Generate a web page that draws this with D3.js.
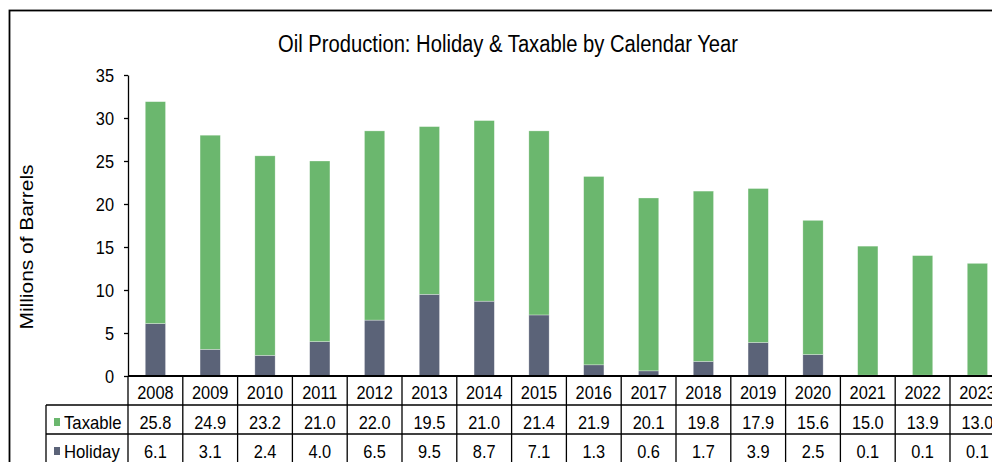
<!DOCTYPE html>
<html>
<head>
<meta charset="utf-8">
<script src="https://cdn.jsdelivr.net/npm/d3@7"></script>
<style>
  body { margin: 0; background: #fff; }
  text { font-family: "Liberation Sans", Arial, sans-serif; fill: #000; }
</style>
</head>
<body>
<svg id="chart" width="992" height="462"></svg>
<script>
var years = ["2008","2009","2010","2011","2012","2013","2014","2015","2016","2017","2018","2019","2020","2021","2022","2023"];
var holiday = [6.1, 3.1, 2.4, 4.0, 6.5, 9.5, 8.7, 7.1, 1.3, 0.6, 1.7, 3.9, 2.5, 0.1, 0.1, 0.1];
var taxable = [25.8, 24.9, 23.2, 21.0, 22.0, 19.5, 21.0, 21.4, 21.9, 20.1, 19.8, 17.9, 15.6, 15.0, 13.9, 13.0];
var yTicks = [0, 5, 10, 15, 20, 25, 30, 35];

var svg = d3.select("#chart"),
    left = 128,
    colW = 54.8,
    plotTop = 75,
    plotBottom = 376,
    rowH = 29;

var green = "#6bb76e",
    slate = "#5b6378";

// excel draws its text tall and narrow
function condense(sel, k) {
    sel.each(function() {
        var w = this.getComputedTextLength();
        d3.select(this).attr("textLength", w * k).attr("lengthAdjust", "spacingAndGlyphs");
    });
}

// outer frame (cropped on right and bottom)
svg.append("rect")
   .attr("x", 9.5).attr("y", 10.5)
   .attr("width", 1100).attr("height", 600)
   .attr("fill", "none").attr("stroke", "#000").attr("stroke-width", 1.8);

svg.append("text")
   .attr("x", 508).attr("y", 52)
   .attr("text-anchor", "middle")
   .style("font-size", "23px")
   .attr("textLength", 460)
   .attr("lengthAdjust", "spacingAndGlyphs")
   .text("Oil Production: Holiday & Taxable by Calendar Year");

var x = d3.scaleBand().domain(years).range([left, left + colW * years.length]);
var xb = d3.scaleBand().domain(years).range([left, left + colW * years.length])
           .paddingInner(0.63).paddingOuter(0.315);
var y = d3.scaleLinear().domain([0, 35]).range([plotBottom, plotTop]);

var rows = years.map(function(yr, i) {
    return { year: yr, holiday: holiday[i], taxable: taxable[i] };
});
var stack = d3.stack().keys(["holiday", "taxable"])(rows);
var color = d3.scaleOrdinal().domain(["holiday", "taxable"]).range([slate, green]);

svg.append("g").selectAll("g")
   .data(stack).enter().append("g")
   .attr("fill", function(d) { return color(d.key); })
   .selectAll("rect")
   .data(function(d) { return d; }).enter().append("rect")
   .attr("x", function(d) { return xb(d.data.year); })
   .attr("width", xb.bandwidth())
   .attr("y", function(d) { return y(d[1]); })
   .attr("height", function(d) { return y(d[0]) - y(d[1]); })
   .attr("stroke", "#fff").attr("stroke-opacity", 0.5).attr("stroke-width", 0.6);

// y axis
var yAxis = svg.append("g")
   .attr("transform", "translate(" + left + ",0)")
   .call(d3.axisLeft(y).tickValues(yTicks).tickSize(4).tickPadding(10).tickSizeOuter(0));
yAxis.selectAll("text").style("font-size", "19px").attr("font-family", null);
yAxis.select(".domain").attr("stroke", "#000").attr("stroke-width", 1.3);
yAxis.selectAll(".tick line").attr("stroke", "#000").attr("stroke-width", 1.3);
condense(yAxis.selectAll("text"), 0.86);

svg.append("text")
   .attr("transform", "translate(33,247) rotate(-90)")
   .attr("text-anchor", "middle")
   .style("font-size", "19px")
   .attr("textLength", 165)
   .attr("lengthAdjust", "spacingAndGlyphs")
   .text("Millions of Barrels");

// data table
var tableRight = left + colW * years.length;
var r1 = plotBottom + rowH, r2 = r1 + rowH, r3 = r2 + rowH;
var grid = svg.append("g").attr("stroke", "#000").attr("stroke-width", 1.3);

years.forEach(function(yr) {
    grid.append("line")
        .attr("x1", x(yr)).attr("x2", x(yr))
        .attr("y1", plotBottom).attr("y2", r3);
});
grid.append("line").attr("x1", tableRight).attr("x2", tableRight).attr("y1", plotBottom).attr("y2", r3);
grid.append("line").attr("x1", 46).attr("x2", 46).attr("y1", r1).attr("y2", r3);
[r1, r2, r3].forEach(function(ry) {
    grid.append("line").attr("x1", 46).attr("x2", tableRight).attr("y1", ry).attr("y2", ry);
});
svg.append("line")
   .attr("x1", left).attr("x2", tableRight)
   .attr("y1", plotBottom).attr("y2", plotBottom)
   .attr("stroke", "#000").attr("stroke-width", 2);

var cell = svg.append("g").style("font-size", "19px").attr("text-anchor", "middle");
cell.selectAll(".yr").data(years).enter().append("text")
    .attr("x", function(d) { return x(d) + x.bandwidth() / 2; })
    .attr("y", plotBottom + 23)
    .text(function(d) { return d; });
cell.selectAll(".tx").data(rows).enter().append("text")
    .attr("x", function(d) { return x(d.year) + x.bandwidth() / 2; })
    .attr("y", r1 + 23.5)
    .text(function(d) { return d.taxable.toFixed(1); });
cell.selectAll(".hd").data(rows).enter().append("text")
    .attr("x", function(d) { return x(d.year) + x.bandwidth() / 2; })
    .attr("y", r2 + 24)
    .text(function(d) { return d.holiday.toFixed(1); });
condense(cell.selectAll("text"), 0.86);

// legend keys in table
[["Taxable", green, r1], ["Holiday", slate, r2]].forEach(function(k) {
    svg.append("rect")
       .attr("x", 54).attr("y", k[2] + 13)
       .attr("width", 6).attr("height", 8)
       .attr("fill", k[1]);
    var t = svg.append("text")
       .attr("x", 64).attr("y", k[2] + 23.5)
       .style("font-size", "19px")
       .text(k[0]);
    condense(t, 0.88);
});
</script>
</body>
</html>
